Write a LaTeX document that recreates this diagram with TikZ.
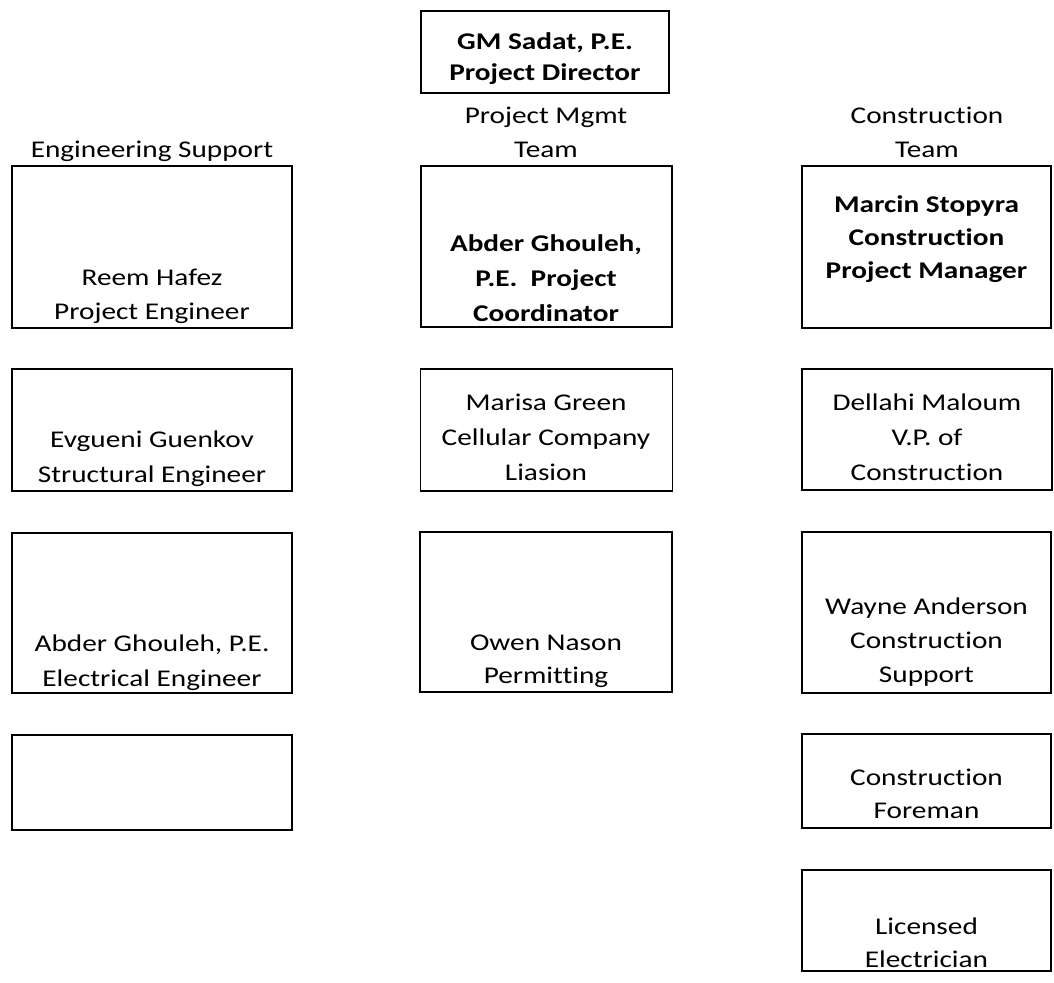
\documentclass[tikz,border=0pt]{standalone}
\usepackage{fontspec}
\setmainfont{Carlito}[FakeStretch=1.22,Ligatures={NoCommon}]
\newcommand\boxlines[2]{{\fontsize{24}{#1}\selectfont\begin{tabular}[b]{@{}c@{}}#2\end{tabular}}}
\begin{document}
\begin{tikzpicture}[x=1pt,y=-1pt,
  orgbox/.style={draw=black, line width=1.1pt, inner sep=0pt},
  txt/.style={anchor=base, inner sep=0pt, font=\fontsize{24}{34}\selectfont}]
\useasboundingbox (0,0) rectangle (1054,982);
% boxes
\node[orgbox, minimum width=248pt, minimum height=82pt]  (top) at (545,52) {};
\node[orgbox, minimum width=280pt, minimum height=162pt] (L1) at (152,247) {};
\node[orgbox, minimum width=251pt, minimum height=161pt] (M1) at (546.5,246.5) {};
\node[orgbox, minimum width=249pt, minimum height=162pt] (R1) at (926.5,247) {};
\node[orgbox, minimum width=280pt, minimum height=122pt] (L2) at (152,430) {};
\node[orgbox, minimum width=252pt, minimum height=122pt] (M2) at (546.5,430) {};
\node[orgbox, minimum width=250pt, minimum height=121pt] (R2) at (927,429.5) {};
\node[orgbox, minimum width=280pt, minimum height=160pt] (L3) at (152,613) {};
\node[orgbox, minimum width=252pt, minimum height=160pt] (M3) at (546,612) {};
\node[orgbox, minimum width=249pt, minimum height=161pt] (R3) at (926.5,612.5) {};
\node[orgbox, minimum width=280pt, minimum height=95pt]  (L4) at (152,782.5) {};
\node[orgbox, minimum width=249pt, minimum height=94pt]  (R4) at (926.5,781) {};
\node[orgbox, minimum width=249pt, minimum height=101pt] (R5) at (926.5,920.5) {};
% headers
\node[txt] (hL) at (152,157) {Engineering Support};
\node[txt] (hM) at (546,157) {\boxlines{34}{Project Mgmt\\Team}};
\node[txt] (hR) at (927,157) {\boxlines{34}{Construction\\Team}};
% texts
\node[txt] (topt) at (545,80) {\bfseries\boxlines{31}{GM Sadat, P.E.\\Project Director}};
\node[txt] (L1t) at (152,319) {\boxlines{34}{Reem Hafez\\Project Engineer}};
\node[txt] (M1t) at (546,321) {\bfseries\boxlines{35}{Abder Ghouleh,\\P.E.~ Project\\Coordinator}};
\node[txt] (R1t) at (926.5,278) {\bfseries\boxlines{33}{Marcin Stopyra\\Construction\\Project Manager}};
\node[txt] (L2t) at (152,482) {\boxlines{35}{Evgueni Guenkov\\Structural Engineer}};
\node[txt] (M2t) at (546,480) {\boxlines{35}{Marisa Green\\Cellular Company\\Liasion}};
\node[txt] (R2t) at (927,480) {\boxlines{35}{Dellahi Maloum\\V.P. of\\Construction}};
\node[txt] (L3t) at (152,686) {\boxlines{35}{Abder Ghouleh, P.E.\\Electrical Engineer}};
\node[txt] (M3t) at (546,683) {\boxlines{33}{Owen Nason\\Permitting}};
\node[txt] (R3t) at (926.5,682) {\boxlines{34}{Wayne Anderson\\Construction\\Support}};
\node[txt] (R4t) at (926.5,818) {\boxlines{33}{Construction\\Foreman}};
\node[txt] (R5t) at (926.5,967) {\boxlines{33}{Licensed\\Electrician}};
\end{tikzpicture}
\end{document}
